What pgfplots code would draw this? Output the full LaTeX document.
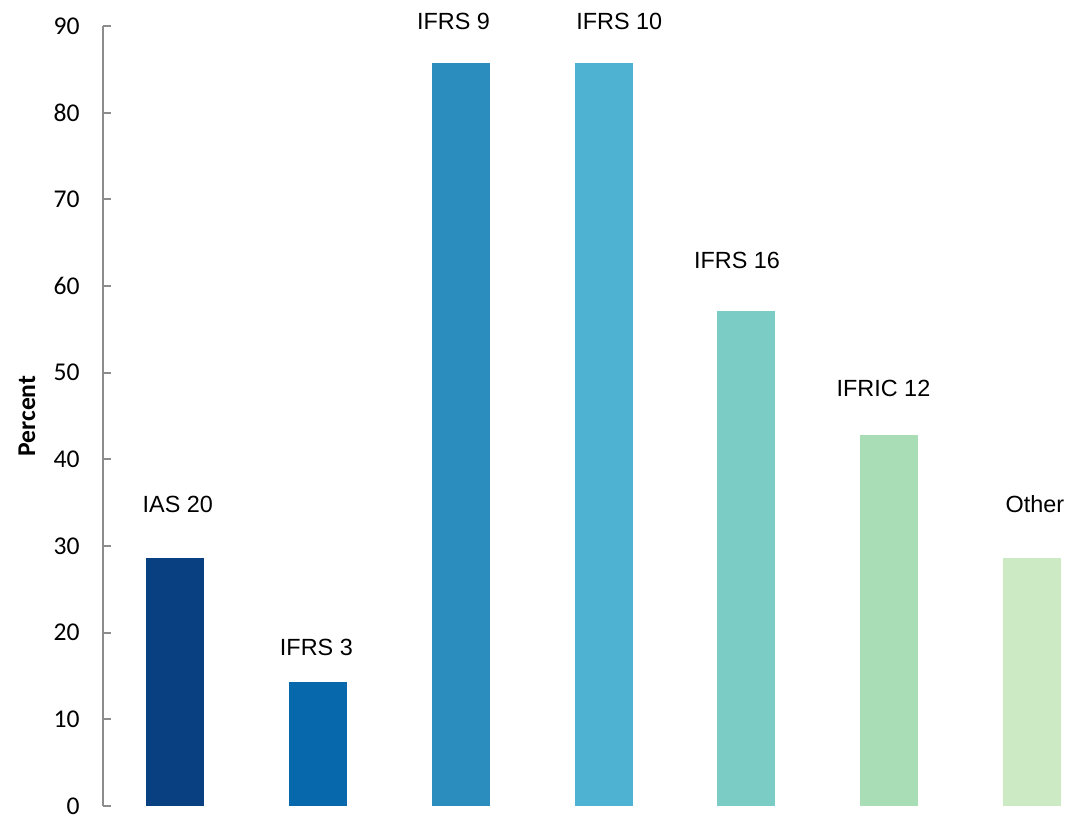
\documentclass[border=0pt]{standalone}
\usepackage{fontspec}
\setmainfont{Liberation Sans}
\newfontfamily\carlito{Carlito}
\usepackage{pgfplots}
\pgfplotsset{compat=1.18}

% GnBu palette, dark to light
\definecolor{c1}{HTML}{084081}
\definecolor{c2}{HTML}{0868AC}
\definecolor{c3}{HTML}{2B8CBE}
\definecolor{c4}{HTML}{4EB3D3}
\definecolor{c5}{HTML}{7BCCC4}
\definecolor{c6}{HTML}{A8DDB5}
\definecolor{c7}{HTML}{CCEBC5}
\definecolor{axisgray}{HTML}{8C8C8C}

\begin{document}
\begin{tikzpicture}
\begin{axis}[
  at={(0,0)}, anchor=south west,
  scale only axis,
  width=491.5pt, height=390pt,
  xmin=-0.504, xmax=6.378,
  ymin=0, ymax=90,
  ytick={0,10,...,90},
  axis y line*=left,
  axis x line=none,
  y axis line style={draw=axisgray, line width=1pt},
  ytick style={draw=axisgray, line width=1pt},
  tick align=inside,
  major tick length=4pt,
  /pgf/number format/assume math mode=true,
  yticklabel style={font=\carlito\fontsize{12.8}{15}\selectfont, xshift=-8.2pt},
  ylabel={Percent},
  ylabel style={font=\carlito\bfseries\fontsize{12.8}{15}\selectfont,
                at={(axis description cs:-0.0773,0.5)}, anchor=center},
  ybar, bar width=29pt, bar shift=0pt,
  every axis plot/.append style={draw=none},
  clip=false,
]
\addplot[fill=c1] coordinates {(0,28.57)};
\addplot[fill=c2] coordinates {(1,14.29)};
\addplot[fill=c3] coordinates {(2,85.71)};
\addplot[fill=c4] coordinates {(3,85.71)};
\addplot[fill=c5] coordinates {(4,57.14)};
\addplot[fill=c6] coordinates {(5,42.86)};
\addplot[fill=c7] coordinates {(6,28.57)};

\begin{scope}[every node/.style={font=\fontsize{11.7}{14}\selectfont, anchor=center}]
\node at (axis cs:0.02,34.85) {IAS 20};
\node at (axis cs:0.99,18.29) {IFRS 3};
\node at (axis cs:1.95,90.58) {IFRS 9};
\node at (axis cs:3.11,90.58) {IFRS 10};
\node at (axis cs:3.935,63.0) {IFRS 16};
\node at (axis cs:4.96,48.17) {IFRIC 12};
\node at (axis cs:6.02,34.85) {Other};
\end{scope}
\end{axis}
\pgfresetboundingbox
\path (-51.5pt,-5pt) rectangle (491.5pt,403pt);
\end{tikzpicture}
\end{document}
